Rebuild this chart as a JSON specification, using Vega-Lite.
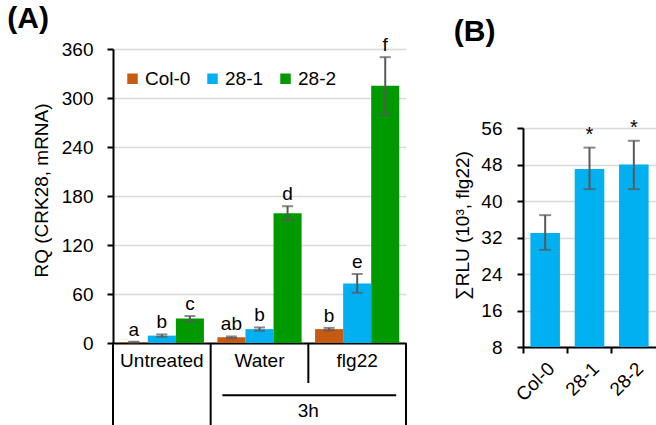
{
  "$schema": "https://vega.github.io/schema/vega-lite/v6.json",
  "padding": {"left": 7, "top": 4, "right": 0, "bottom": 0},
  "config": {
    "font": "Liberation Sans",
    "view": {"stroke": null},
    "axis": {"labelColor": "black", "titleColor": "black", "labelFontSize": 19, "titleFontSize": 19, "titleFontWeight": "normal", "labelFont": "Liberation Sans", "titleFont": "Liberation Sans", "labelOverlap": false},
    "title": {"font": "Liberation Sans", "color": "black"}
  },
  "datasets": {
    "rq": [
      {"group": "Untreated", "series": "Col-0", "value": 1, "lo": 0.5, "hi": 1.5, "letter": "a"},
      {"group": "Untreated", "series": "28-1", "value": 9, "lo": 7.5, "hi": 10.5, "letter": "b"},
      {"group": "Untreated", "series": "28-2", "value": 30, "lo": 27, "hi": 33, "letter": "c"},
      {"group": "Water", "series": "Col-0", "value": 7, "lo": 6, "hi": 8, "letter": "ab"},
      {"group": "Water", "series": "28-1", "value": 17, "lo": 15, "hi": 19, "letter": "b"},
      {"group": "Water", "series": "28-2", "value": 159, "lo": 150.5, "hi": 167.5, "letter": "d"},
      {"group": "flg22", "series": "Col-0", "value": 17, "lo": 15.5, "hi": 18.5, "letter": "b"},
      {"group": "flg22", "series": "28-1", "value": 73, "lo": 61.5, "hi": 84.5, "letter": "e"},
      {"group": "flg22", "series": "28-2", "value": 315, "lo": 280, "hi": 350, "letter": "f"}
    ],
    "deco": [
      {"x": 0, "x2": 0, "y": 0, "y2": -104},
      {"x": 1, "x2": 1, "y": 0, "y2": -104},
      {"x": 2, "x2": 2, "y": 0, "y2": -49},
      {"x": 3, "x2": 3, "y": 0, "y2": -104},
      {"x": 1.12, "x2": 2.9, "y": -64, "y2": -64}
    ],
    "decoText": [{"x": 2, "y": -90, "label": "3h"}],
    "rlu": [
      {"strain": "Col-0", "value": 33, "lo": 29.3, "hi": 36.9, "star": ""},
      {"strain": "28-1", "value": 47, "lo": 42.6, "hi": 51.7, "star": "*"},
      {"strain": "28-2", "value": 48, "lo": 42.6, "hi": 53.2, "star": "*"}
    ]
  },
  "spacing": 46,
  "hconcat": [
    {
      "title": {"text": "(A)", "anchor": "start", "fontSize": 30, "fontWeight": "bold", "dx": -25, "offset": 2},
      "width": 293,
      "height": 294,
      "resolve": {"scale": {"x": "independent"}},
      "layer": [
        {
          "data": {"name": "rq"},
          "encoding": {
            "x": {"field": "group", "type": "nominal", "sort": ["Untreated", "Water", "flg22"],
              "scale": {"paddingInner": 0, "paddingOuter": 0},
              "axis": {"title": null, "ticks": false, "domain": true, "domainColor": "black", "domainWidth": 2, "labelAngle": 0, "labelPadding": 8, "grid": false}},
            "xOffset": {"field": "series", "type": "nominal", "sort": ["Col-0", "28-1", "28-2"], "scale": {"paddingInner": 0, "paddingOuter": 0.24}}
          },
          "layer": [
            {
              "mark": {"type": "bar"},
              "encoding": {
                "y": {"field": "value", "type": "quantitative",
                  "scale": {"domain": [0, 360], "nice": false},
                  "axis": {"title": "RQ (CRK28, mRNA)", "titleY": 141, "values": [0, 60, 120, 180, 240, 300, 360], "grid": true, "gridColor": "#D9D9D9", "gridWidth": 1.5, "domainColor": "black", "domainWidth": 2, "tickColor": "black", "tickWidth": 2, "tickSize": 6, "labelPadding": 14, "titlePadding": 10}},
                "color": {"field": "series", "type": "nominal", "sort": ["Col-0", "28-1", "28-2"],
                  "scale": {"domain": ["Col-0", "28-1", "28-2"], "range": ["#C55A11", "#00B0F0", "#009900"]},
                  "legend": {"title": null, "orient": "none", "legendX": 10, "legendY": 20, "direction": "horizontal", "symbolType": "square", "symbolSize": 110, "symbolStrokeWidth": 0, "labelFontSize": 19, "labelOffset": 3, "columnPadding": 12, "labelColor": "black"}}
              }
            },
            {
              "mark": {"type": "rule", "color": "#595959", "strokeWidth": 2},
              "encoding": {"y": {"field": "lo", "type": "quantitative"}, "y2": {"field": "hi"}}
            },
            {
              "mark": {"type": "tick", "color": "#595959", "thickness": 2, "size": 11},
              "encoding": {"y": {"field": "lo", "type": "quantitative"}}
            },
            {
              "mark": {"type": "tick", "color": "#595959", "thickness": 2, "size": 11},
              "encoding": {"y": {"field": "hi", "type": "quantitative"}}
            },
            {
              "mark": {"type": "text", "fontSize": 19, "baseline": "alphabetic", "dy": -6, "color": "black"},
              "encoding": {"y": {"field": "hi", "type": "quantitative"}, "text": {"field": "letter"}}
            }
          ]
        },
        {
          "data": {"name": "deco"},
          "mark": {"type": "rule", "color": "black", "strokeWidth": 2},
          "encoding": {
            "x": {"field": "x", "type": "quantitative", "scale": {"domain": [0, 3], "nice": false, "zero": false}, "axis": null},
            "x2": {"field": "x2"},
            "y": {"field": "y", "type": "quantitative", "scale": {"domain": [0, 360], "nice": false}},
            "y2": {"field": "y2"}
          }
        },
        {
          "data": {"name": "decoText"},
          "mark": {"type": "text", "fontSize": 19, "baseline": "alphabetic", "color": "black"},
          "encoding": {
            "x": {"field": "x", "type": "quantitative", "scale": {"domain": [0, 3], "nice": false, "zero": false}, "axis": null},
            "y": {"field": "y", "type": "quantitative", "scale": {"domain": [0, 360], "nice": false}},
            "text": {"field": "label"}
          }
        }
      ]
    },
    {
      "title": {"text": "(B)", "anchor": "start", "fontSize": 30, "fontWeight": "bold", "offset": 2},
      "width": 133,
      "height": 298,
      "data": {"name": "rlu"},
      "encoding": {
        "x": {"field": "strain", "type": "nominal", "sort": ["Col-0", "28-1", "28-2"],
          "scale": {"paddingInner": 0, "paddingOuter": 0},
          "axis": {"title": null, "labelAngle": -45, "labelAlign": "right", "labelBaseline": "top", "labelPadding": 6, "bandPosition": 0, "tickColor": "black", "tickWidth": 2, "tickSize": 6, "domainColor": "black", "domainWidth": 2, "grid": false}}
      },
      "layer": [
        {
          "mark": {"type": "bar", "color": "#00B0F0", "width": {"band": 0.667}},
          "encoding": {
            "y": {"field": "value", "type": "quantitative",
              "scale": {"domain": [8, 56], "nice": false, "zero": false, "range": [298, 79]},
              "axis": {"title": "∑RLU (10³, flg22)", "titleY": 176, "values": [8, 16, 24, 32, 40, 48, 56], "grid": true, "gridColor": "#D9D9D9", "gridWidth": 1.5, "domainColor": "black", "domainWidth": 2, "tickColor": "black", "tickWidth": 2, "tickSize": 6, "labelPadding": 15, "titlePadding": 8}},
            "y2": {"datum": 8}
          }
        },
        {
          "mark": {"type": "rule", "color": "#595959", "strokeWidth": 2},
          "encoding": {"y": {"field": "lo", "type": "quantitative"}, "y2": {"field": "hi"}}
        },
        {
          "mark": {"type": "tick", "color": "#595959", "thickness": 2, "size": 12},
          "encoding": {"y": {"field": "lo", "type": "quantitative"}}
        },
        {
          "mark": {"type": "tick", "color": "#595959", "thickness": 2, "size": 12},
          "encoding": {"y": {"field": "hi", "type": "quantitative"}}
        },
        {
          "mark": {"type": "text", "fontSize": 20, "baseline": "alphabetic", "dy": -7, "color": "black"},
          "encoding": {"y": {"field": "hi", "type": "quantitative"}, "text": {"field": "star"}}
        }
      ]
    }
  ]
}
